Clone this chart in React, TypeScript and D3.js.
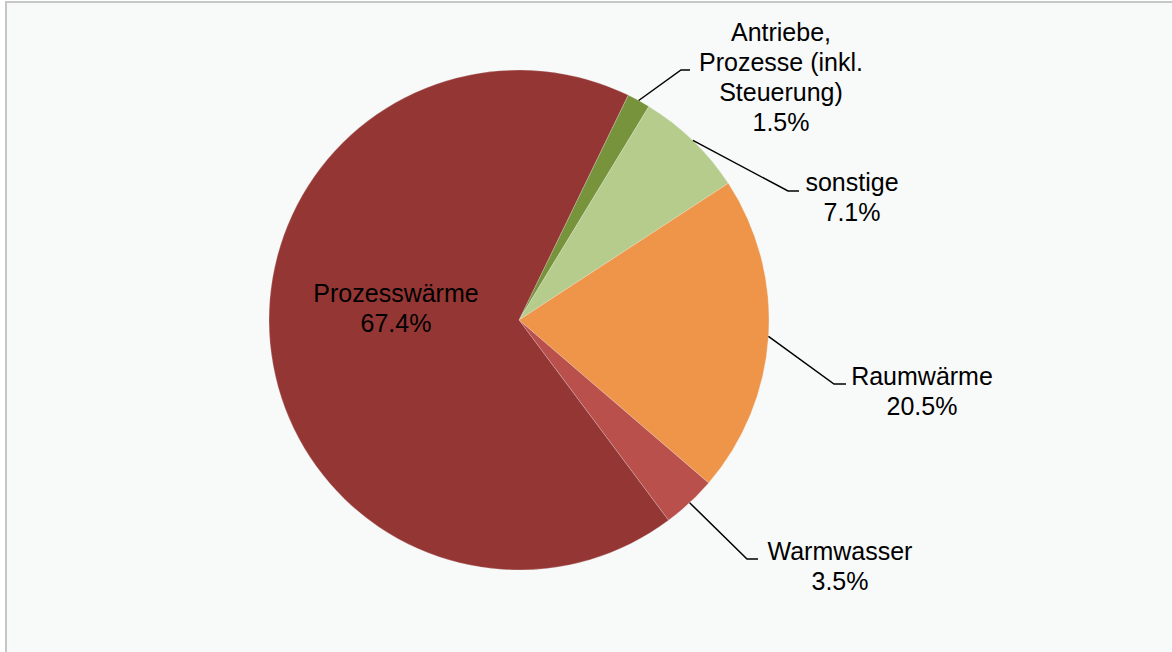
import React from "react";
import * as d3 from "d3";

const categories = [
  "Antriebe, Prozesse (inkl. Steuerung)",
  "sonstige",
  "Raumwärme",
  "Warmwasser",
  "Prozesswärme",
];
const values = [1.5, 7.1, 20.5, 3.5, 67.4];
const labelLines = [
  ["Antriebe,", "Prozesse (inkl.", "Steuerung)"],
  ["sonstige"],
  ["Raumwärme"],
  ["Warmwasser"],
  ["Prozesswärme"],
];
const colors = ["#77933c", "#b5cc8c", "#ee9549", "#b9504c", "#943634"];

// layout (not data)
const W = 1172;
const H = 652;
const CX = 519;
const CY = 320;
const R = 250;
const START = (25.9 * Math.PI) / 180;
const FONT = 25;
const LINE_H = 30;
// label placements: elbow point, text center x, first baseline y (null = inside)
const labelLayout = [
  { elbow: [681, 70], hx: 690, tx: 781, ty: 41 },
  { elbow: [788, 191], hx: 799, tx: 852, ty: 191 },
  { elbow: [834, 384], hx: 846, tx: 922, ty: 385 },
  { elbow: [747, 559], hx: 758, tx: 840, ty: 560 },
  { elbow: null, hx: 0, tx: 396, ty: 302 },
];

export default function App() {
  const pie = d3
    .pie<number>()
    .sort(null)
    .value((d) => d)
    .startAngle(START)
    .endAngle(START + 2 * Math.PI);
  const arcs = pie(values);
  const arc = d3.arc<d3.PieArcDatum<number>>().innerRadius(0).outerRadius(R);

  return (
    <svg
      width={W}
      height={H}
      style={{ position: "absolute", left: 0, top: 0, display: "block" }}
      fontFamily="'Liberation Sans', Arial, sans-serif"
    >
      <rect x={0} y={0} width={W} height={H} fill="#ffffff" />
      <rect
        x={6}
        y={2}
        width={W + 20}
        height={H + 20}
        fill="#f8f9f9"
        stroke="#c6c6c6"
        strokeWidth={2}
      />
      <g transform={`translate(${CX},${CY})`}>
        {arcs.map((a, i) => (
          <path
            key={i}
            d={arc(a) || ""}
            fill={colors[i]}
            stroke="#f8f9f9"
            strokeWidth={0.4}
            strokeOpacity={0.6}
          />
        ))}
      </g>
      {arcs.map((a, i) => {
        const L = labelLayout[i];
        const mid = (a.startAngle + a.endAngle) / 2;
        const sx = CX + R * Math.sin(mid);
        const sy = CY - R * Math.cos(mid);
        const lines = [...labelLines[i], `${values[i].toFixed(1)}%`];
        return (
          <g key={i}>
            {L.elbow && (
              <polyline
                points={`${sx},${sy} ${L.elbow[0]},${L.elbow[1]} ${L.hx},${L.elbow[1]}`}
                fill="none"
                stroke="#000"
                strokeWidth={1.5}
              />
            )}
            <text
              x={L.tx}
              y={L.ty}
              textAnchor="middle"
              fontSize={FONT}
              fill="#000"
            >
              {lines.map((t, j) => (
                <tspan key={j} x={L.tx} y={L.ty + j * LINE_H}>
                  {t}
                </tspan>
              ))}
            </text>
          </g>
        );
      })}
    </svg>
  );
}
